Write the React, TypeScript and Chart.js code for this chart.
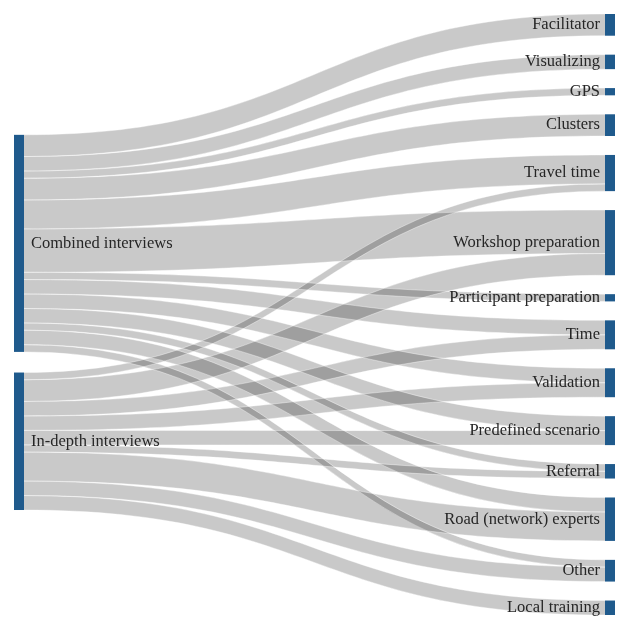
import React, { useEffect, useRef } from "react";
import { Chart, registerables } from "chart.js";

Chart.register(...registerables);

// ---- Data ----
const sourceNodes = ["Combined interviews", "In-depth interviews"];
const targetNodes = [
  "Facilitator",
  "Visualizing",
  "GPS",
  "Clusters",
  "Travel time",
  "Workshop preparation",
  "Participant preparation",
  "Time",
  "Validation",
  "Predefined scenario",
  "Referral",
  "Road (network) experts",
  "Other",
  "Local training",
];
// flows from each source to each target (same order as targetNodes)
const combinedFlows = [3, 2, 1, 3, 4, 6, 1, 2, 2, 2, 1, 2, 1, 0];
const inDepthFlows = [0, 0, 0, 0, 1, 3, 0, 2, 2, 2, 1, 4, 2, 2];

// ---- Layout / style settings ----
const GAP_UNITS = 2.62; // gap between right nodes, in flow units
const LEFT_GAP_UNITS = 2.85; // gap between left nodes
const LEFT_OFFSET_UNITS = 16.7; // vertical offset of the left column
const NODE_W = 10;
const NODE_COLOR = "#1f5a8c";
const LINK_COLOR = "rgba(0,0,0,0.21)";
const LINK_EDGE = "rgba(255,255,255,0.55)";
const FONT = "16.5px 'Liberation Serif', 'Times New Roman', serif";

const flows = [combinedFlows, inDepthFlows];

export default function App() {
  const ref = useRef<HTMLCanvasElement | null>(null);

  useEffect(() => {
    if (!ref.current) return;
    const sourceTotals = flows.map((f) => f.reduce((a, b) => a + b, 0));
    const targetTotals = targetNodes.map((_, j) => flows.reduce((s, f) => s + f[j], 0));
    const total = targetTotals.reduce((a, b) => a + b, 0);
    const extent = total + (targetNodes.length - 1) * GAP_UNITS;

    const srcTop: number[] = [];
    let acc = LEFT_OFFSET_UNITS;
    sourceTotals.forEach((v) => {
      srcTop.push(acc);
      acc += v + LEFT_GAP_UNITS;
    });
    const tgtTop: number[] = [];
    acc = 0;
    targetTotals.forEach((v) => {
      tgtTop.push(acc);
      acc += v + GAP_UNITS;
    });

    const sankeyPlugin = {
      id: "sankeyDraw",
      afterDraw(chart: any) {
        const ctx = chart.ctx as CanvasRenderingContext2D;
        const xs = chart.scales.x;
        const ys = chart.scales.y;
        const xL = xs.getPixelForValue(0);
        const xR = xs.getPixelForValue(1);
        const x0 = xL + NODE_W;
        const x1 = xR - NODE_W;
        const xm = (x0 + x1) / 2;
        ctx.save();
        const srcCursor = srcTop.slice();
        const tgtCursor = tgtTop.slice();
        const links: any[] = [];
        const srcPos: Record<string, number> = {};
        flows.forEach((f, i) => {
          f.forEach((v, j) => {
            if (v <= 0) return;
            links.push({ i, j, v });
            srcPos[i + "-" + j] = srcCursor[i];
            srcCursor[i] += v;
          });
        });
        const tgtPos: Record<string, number> = {};
        targetNodes.forEach((_, j) => {
          flows.forEach((f, i) => {
            const v = f[j];
            if (v <= 0) return;
            tgtPos[i + "-" + j] = tgtCursor[j];
            tgtCursor[j] += v;
          });
        });
        ctx.fillStyle = LINK_COLOR;
        ctx.strokeStyle = LINK_EDGE;
        ctx.lineWidth = 0.7;
        links.forEach(({ i, j, v }) => {
          const key = i + "-" + j;
          const s0 = ys.getPixelForValue(srcPos[key]);
          const s1 = ys.getPixelForValue(srcPos[key] + v);
          const t0 = ys.getPixelForValue(tgtPos[key]);
          const t1 = ys.getPixelForValue(tgtPos[key] + v);
          ctx.beginPath();
          ctx.moveTo(x0, s0);
          ctx.bezierCurveTo(xm, s0, xm, t0, x1, t0);
          ctx.lineTo(x1, t1);
          ctx.bezierCurveTo(xm, t1, xm, s1, x0, s1);
          ctx.closePath();
          ctx.fill();
        });
        // thin light seams along link edges
        links.forEach(({ i, j, v }) => {
          const key = i + "-" + j;
          const s0 = ys.getPixelForValue(srcPos[key]);
          const s1 = ys.getPixelForValue(srcPos[key] + v);
          const t0 = ys.getPixelForValue(tgtPos[key]);
          const t1 = ys.getPixelForValue(tgtPos[key] + v);
          ctx.beginPath();
          ctx.moveTo(x0 + 30, s0 + (t0 - s0) * 0.006);
          ctx.moveTo(x0, s0);
          ctx.bezierCurveTo(xm, s0, xm, t0, x1, t0);
          ctx.moveTo(x0, s1);
          ctx.bezierCurveTo(xm, s1, xm, t1, x1, t1);
          ctx.stroke();
        });
        ctx.fillStyle = NODE_COLOR;
        sourceTotals.forEach((v, i) => {
          const a = ys.getPixelForValue(srcTop[i]);
          const b = ys.getPixelForValue(srcTop[i] + v);
          ctx.fillRect(xL, a, NODE_W, b - a);
        });
        targetTotals.forEach((v, j) => {
          const a = ys.getPixelForValue(tgtTop[j]);
          const b = ys.getPixelForValue(tgtTop[j] + v);
          ctx.fillRect(x1, a, NODE_W, b - a);
        });
        ctx.font = FONT;
        ctx.fillStyle = "#262626";
        ctx.textBaseline = "middle";
        ctx.textAlign = "left";
        sourceNodes.forEach((name, i) => {
          const c = ys.getPixelForValue(srcTop[i] + sourceTotals[i] / 2);
          ctx.fillText(name, x0 + 7, c);
        });
        ctx.textAlign = "right";
        targetNodes.forEach((name, j) => {
          const c = ys.getPixelForValue(tgtTop[j] + targetTotals[j] / 2);
          ctx.fillText(name, x1 - 5, c);
        });
        ctx.restore();
      },
    };

    const chart = new Chart(ref.current, {
      type: "scatter",
      data: { datasets: [] },
      options: {
        animation: false,
        responsive: true,
        maintainAspectRatio: false,
        layout: { padding: { left: 6, right: 7, top: 6, bottom: 6 } },
        plugins: { legend: { display: false }, tooltip: { enabled: false } },
        scales: {
          x: { type: "linear", min: 0, max: 1, display: false },
          y: { type: "linear", min: 0, max: extent, reverse: true, display: false },
        },
      },
      plugins: [sankeyPlugin],
    });
    return () => chart.destroy();
  }, []);

  return (
    <div style={{ width: 614, height: 613, position: "relative" }}>
      <canvas ref={ref} />
    </div>
  );
}
